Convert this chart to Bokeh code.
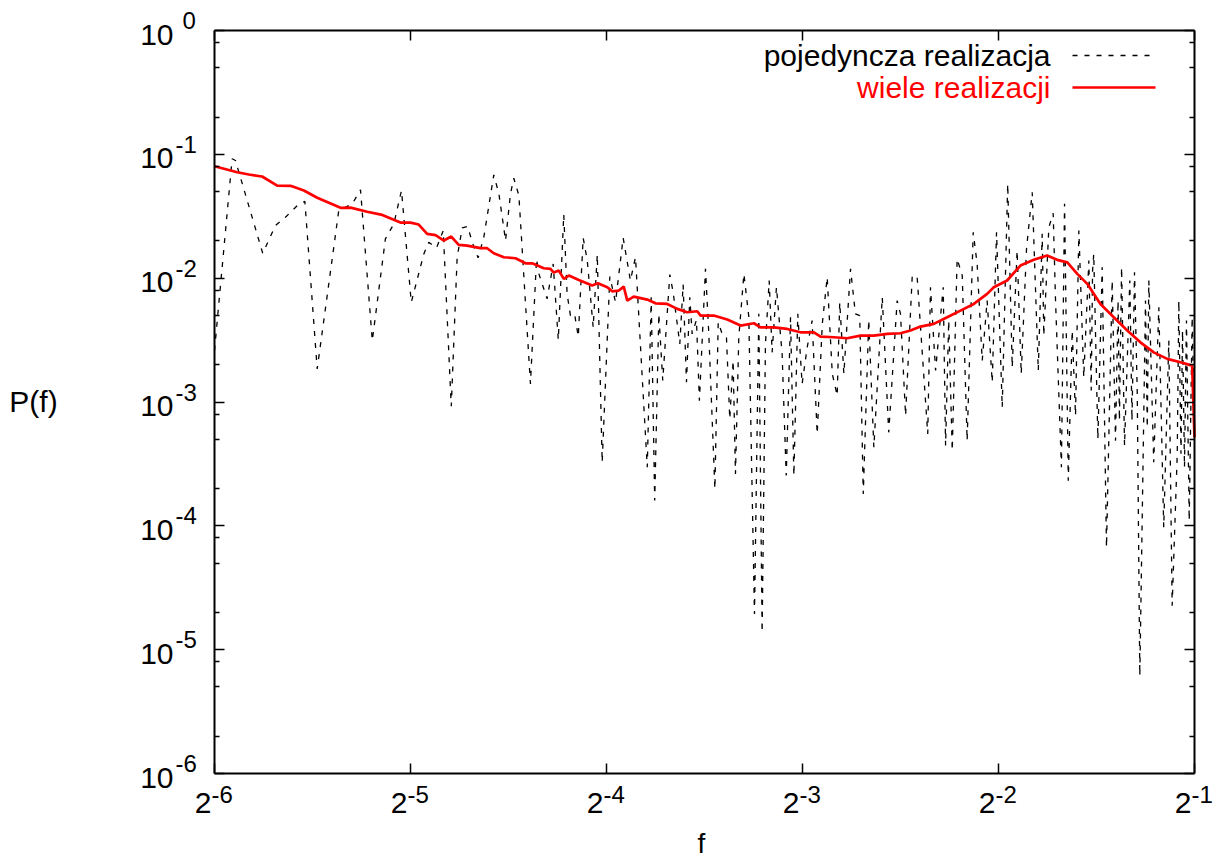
from bokeh.plotting import figure
from bokeh.models import Range1d, FixedTicker, LogAxis, Label
from bokeh.embed import file_html
from bokeh.resources import INLINE

# ---- data (log-log; stored as exponents) ----
# single realisation: log2(f), log10(P)
single_log2_f = [
    -6.000, -5.910, -5.893, -5.754, -5.689, -5.638, -5.578, -5.539, -5.476, -5.366,
    -5.297, -5.255, -5.195, -5.128, -5.085, -5.046, -4.996, -4.932, -4.907, -4.867,
    -4.833, -4.792, -4.762, -4.736, -4.708, -4.685, -4.655, -4.626, -4.575, -4.549,
    -4.515, -4.490, -4.473, -4.447, -4.388, -4.357, -4.345, -4.303, -4.272, -4.246,
    -4.218, -4.201, -4.184, -4.163, -4.144, -4.119, -4.098, -4.068, -4.047, -4.022,
    -3.983, -3.954, -3.915, -3.878, -3.852, -3.792, -3.772, -3.754, -3.733, -3.713,
    -3.677, -3.660, -3.626, -3.609, -3.592, -3.575, -3.563, -3.541, -3.526, -3.495,
    -3.478, -3.447, -3.430, -3.410, -3.388, -3.371, -3.354, -3.342, -3.325, -3.299,
    -3.274, -3.245, -3.223, -3.206, -3.189, -3.170, -3.155, -3.133, -3.104, -3.083,
    -3.061, -3.044, -3.024, -3.002, -2.976, -2.951, -2.925, -2.899, -2.874, -2.848,
    -2.823, -2.810, -2.789, -2.755, -2.730, -2.708, -2.690, -2.662, -2.636, -2.593,
    -2.560, -2.517, -2.500, -2.474, -2.440, -2.415, -2.361, -2.347, -2.321, -2.282,
    -2.270, -2.254, -2.236, -2.211, -2.185, -2.160, -2.129, -2.109, -2.083, -2.058,
    -2.032, -2.010, -1.981, -1.953, -1.930, -1.905, -1.884, -1.857, -1.828, -1.797,
    -1.777, -1.769, -1.743, -1.721, -1.709, -1.679, -1.663, -1.644, -1.624, -1.607,
    -1.590, -1.565, -1.539, -1.527, -1.520, -1.514, -1.493, -1.471, -1.449, -1.420,
    -1.403, -1.390, -1.383, -1.372,
    -1.357, -1.330, -1.319, -1.306, -1.292, -1.279, -1.250, -1.241, -1.233, -1.208,
    -1.182, -1.157,
    -1.131, -1.114, -1.088, -1.080, -1.069, -1.061, -1.051, -1.041, -1.027, -1.012,
    -1.000,
]
single_log10_p = [
    -2.585, -1.036, -1.050, -1.799, -1.575, -1.508, -1.414, -1.379, -2.733, -1.454,
    -1.400, -1.287, -2.504, -1.683, -1.561, -1.292, -2.195, -1.804, -1.710, -1.755,
    -1.616, -3.035, -1.831, -1.594, -1.583, -1.710, -1.836, -1.670, -1.166, -1.319,
    -1.696, -1.319, -1.193, -1.333, -2.854, -1.844, -1.965, -2.167, -1.885, -2.498,
    -1.486, -2.127, -2.302, -2.288, -2.472, -1.674, -1.858, -2.397, -1.809, -3.487,
    -1.987, -2.195, -1.674, -2.019, -1.831, -3.527, -2.154, -3.796, -2.288, -2.827,
    -1.971, -2.114, -2.531, -2.052, -2.841, -2.154, -2.450, -2.337, -2.989, -1.925,
    -2.450, -3.702, -2.356, -2.450, -2.477, -3.137, -2.666, -3.581, -2.477, -1.965,
    -2.310, -4.712, -2.288, -4.860, -2.531, -2.019, -2.599, -2.073, -2.611, -3.594,
    -2.316, -3.594, -2.288, -2.854, -2.558, -2.342, -3.258, -2.369, -1.993, -2.773,
    -2.948, -2.195, -2.773, -1.925, -2.288, -2.302, -3.742, -2.337, -3.366, -2.154,
    -3.245, -2.181, -2.288, -3.110, -1.979, -1.993, -3.258, -2.073, -2.746, -2.073,
    -3.352, -2.342, -3.393, -1.844, -1.979, -3.312, -1.629, -1.885, -2.666, -2.181,
    -2.841, -1.629, -3.043, -1.238, -2.720, -1.777, -2.773, -1.763, -1.306, -2.746,
    -1.642, -2.464, -1.589, -1.476, -2.181, -3.527, -1.400, -3.635, -2.423, -3.110,
    -1.616, -2.800, -1.858, -2.908, -1.939, -1.804, -3.298, -1.912, -4.174, -2.019,
    -3.312, -2.181, -3.150, -1.912,
    -3.352, -2.019, -3.150, -1.952, -2.935, -5.210, -2.181, -3.207, -2.019, -3.487,
    -2.235, -4.012,
    -2.504, -4.645, -3.419, -2.181, -3.417, -2.423, -3.527, -2.342, -3.958, -2.316,
    -3.285,
]

# many realisations (average): log2(f), log10(P)
mean_log2_f = [
    -6.000, -5.884, -5.825, -5.757, -5.680, -5.612, -5.544, -5.476, -5.357, -5.306,
    -5.221, -5.144, -5.051, -5.000, -4.958, -4.915, -4.872, -4.830, -4.792, -4.754,
    -4.711, -4.643, -4.609, -4.575, -4.524, -4.464, -4.413, -4.379, -4.320, -4.286,
    -4.269, -4.243, -4.218, -4.192, -4.141, -4.073, -4.044, -3.996, -3.971, -3.937,
    -3.912, -3.894, -3.861, -3.792, -3.750, -3.690, -3.639, -3.588, -3.537, -3.520,
    -3.453, -3.384, -3.316, -3.248, -3.214, -3.146, -3.078, -3.010, -2.942, -2.908,
    -2.840, -2.772, -2.704, -2.636, -2.568, -2.500, -2.449, -2.398, -2.330, -2.262,
    -2.194, -2.126, -2.058, -2.024, -1.956, -1.888, -1.820, -1.752, -1.701, -1.649,
    -1.598, -1.547, -1.480, -1.412, -1.343, -1.276, -1.208, -1.139, -1.071, -1.012,
    -1.000,
]
mean_log10_p = [
    -1.096, -1.145, -1.163, -1.179, -1.252, -1.254, -1.292, -1.351, -1.432, -1.430,
    -1.464, -1.489, -1.551, -1.551, -1.567, -1.642, -1.653, -1.696, -1.664, -1.731,
    -1.737, -1.758, -1.758, -1.799, -1.831, -1.839, -1.880, -1.880, -1.920, -1.925,
    -1.955, -1.939, -2.006, -1.979, -2.014, -2.060, -2.041, -2.073, -2.106, -2.100,
    -2.068, -2.181, -2.149, -2.173, -2.203, -2.208, -2.248, -2.275, -2.267, -2.302,
    -2.302, -2.334, -2.383, -2.364, -2.397, -2.397, -2.410, -2.437, -2.437, -2.472,
    -2.477, -2.485, -2.464, -2.464, -2.450, -2.445, -2.423, -2.391, -2.369, -2.316,
    -2.262, -2.208, -2.127, -2.073, -2.019, -1.898, -1.852, -1.817, -1.852, -1.872,
    -1.965, -2.046, -2.208, -2.316, -2.423, -2.518, -2.599, -2.652, -2.679, -2.706,
    -3.285,
]

x_tick_exps = [-6, -5, -4, -3, -2, -1]
y_tick_exps = [-6, -5, -4, -3, -2, -1, 0]
y_minor_mults = [2, 5, 8]
legend_labels = ["pojedyncza realizacja", "wiele realizacji"]
x_label = "f"
y_label = "P(f)"

FONT = "Liberation Sans"

f_single = [2.0 ** e for e in single_log2_f]
p_single = [10.0 ** e for e in single_log10_p]
f_mean = [2.0 ** e for e in mean_log2_f]
p_mean = [10.0 ** e for e in mean_log10_p]

x_ticks = [2.0 ** e for e in x_tick_exps]
y_ticks = [10.0 ** e for e in y_tick_exps]
y_minor = [m * 10.0 ** e for e in y_tick_exps[:-1] for m in y_minor_mults]

x_lo, x_hi = x_ticks[0], x_ticks[-1]
y_lo, y_hi = y_ticks[0], y_ticks[-1]

# ---- layout: the frame fills the canvas; the plot box sits at
# left 214, right 1194, top 30, bottom 773 (canvas pixels)
FW, FH = 1216, 864
BOX_L, BOX_R, BOX_T, BOX_B = 214, 1194, 30, 773
PX_PER_OCT = (BOX_R - BOX_L) / (x_tick_exps[-1] - x_tick_exps[0])
PX_PER_DEC = (BOX_B - BOX_T) / (y_tick_exps[-1] - y_tick_exps[0])


def px_x(px):
    return 2.0 ** (x_tick_exps[0] + (px - BOX_L) / PX_PER_OCT)


def px_y(py):
    return 10.0 ** (y_tick_exps[-1] - (py - BOX_T) / PX_PER_DEC)


p = figure(frame_width=FW, frame_height=FH,
           x_axis_type="log", y_axis_type="log",
           x_range=Range1d(px_x(0), px_x(FW)), y_range=Range1d(px_y(FH), px_y(0)),
           output_backend="svg", toolbar_location=None, min_border=0)
p.grid.visible = False
p.outline_line_color = None
p.background_fill_color = "white"
p.border_fill_color = "white"


def style_axis(ax, ticker, loc, bounds):
    ax.ticker = ticker
    ax.fixed_location = loc
    ax.bounds = bounds
    ax.major_label_text_color = None
    ax.major_label_text_font_size = "0px"
    ax.major_label_standoff = 0
    ax.axis_line_color = "black"
    ax.axis_line_width = 2
    ax.major_tick_in = 10
    ax.major_tick_out = 0
    ax.minor_tick_in = 5
    ax.minor_tick_out = 0
    ax.major_tick_line_width = 1.5
    ax.minor_tick_line_width = 1.5
    ax.major_tick_line_color = "black"
    ax.minor_tick_line_color = "black"


xt = FixedTicker(ticks=x_ticks, minor_ticks=[])
yt = FixedTicker(ticks=y_ticks, minor_ticks=y_minor)
style_axis(p.xaxis[0], xt, y_lo, (x_lo, x_hi))
style_axis(p.yaxis[0], yt, x_lo, (y_lo, y_hi))
top_ax = LogAxis()
right_ax = LogAxis()
style_axis(top_ax, xt, y_hi, (x_lo, x_hi))
style_axis(right_ax, yt, x_hi, (y_lo, y_hi))
p.add_layout(top_ax, "above")
p.add_layout(right_ax, "right")

# data
p.line(f_single, p_single, line_color="black", line_width=1.3, line_dash="5 7")
p.line(f_mean, p_mean, line_color="#ff0000", line_width=2.7)

MAIN = "30px"
SUP = "24px"

# y tick labels 10^k
for e, v in zip(y_tick_exps, y_ticks):
    p.add_layout(Label(x=x_lo, y=v, x_offset=-41, y_offset=-4, text="10",
                       text_align="right", text_baseline="middle",
                       text_font=FONT, text_font_size=MAIN, text_color="black"))
    p.add_layout(Label(x=x_lo, y=v, x_offset=(-32 if e == 0 else -39), y_offset=10,
                       text=str(e), text_align="left", text_baseline="middle",
                       text_font=FONT, text_font_size=SUP, text_color="black"))

# x tick labels 2^k
for e, v in zip(x_tick_exps, x_ticks):
    p.add_layout(Label(x=v, y=y_lo, x_offset=-3, y_offset=-29, text="2",
                       text_align="right", text_baseline="middle",
                       text_font=FONT, text_font_size=MAIN, text_color="black"))
    p.add_layout(Label(x=v, y=y_lo, x_offset=-3, y_offset=-21, text=str(e),
                       text_align="left", text_baseline="middle",
                       text_font=FONT, text_font_size=SUP, text_color="black"))

# axis titles
p.add_layout(Label(x=x_lo, y=px_y(401), x_offset=33 - BOX_L, text=y_label,
                   text_align="center", text_baseline="middle",
                   text_font=FONT, text_font_size=MAIN, text_color="black"))
p.add_layout(Label(x=px_x(701), y=y_lo, y_offset=-(843 - BOX_B), text=x_label,
                   text_align="center", text_baseline="middle",
                   text_font=FONT, text_font_size="28px", text_color="black"))

# legend (gnuplot style: text then sample)
LEG = "30px"
colors = ["black", "#ff0000"]
rows_py = [55, 87]
for lab, col, py in zip(legend_labels, colors, rows_py):
    p.add_layout(Label(x=px_x(1050), y=px_y(py), text=lab,
                       text_align="right", text_baseline="middle",
                       text_font=FONT, text_font_size=LEG, text_color=col))

p.segment(x0=[px_x(1072)], x1=[px_x(1155)], y0=[px_y(rows_py[0])], y1=[px_y(rows_py[0])],
          line_color="black", line_width=1.3, line_dash="5 7")
p.segment(x0=[px_x(1072)], x1=[px_x(1155)], y0=[px_y(rows_py[1])], y1=[px_y(rows_py[1])],
          line_color="#ff0000", line_width=2.7)

open("out.html", "w").write(file_html(p, INLINE))
